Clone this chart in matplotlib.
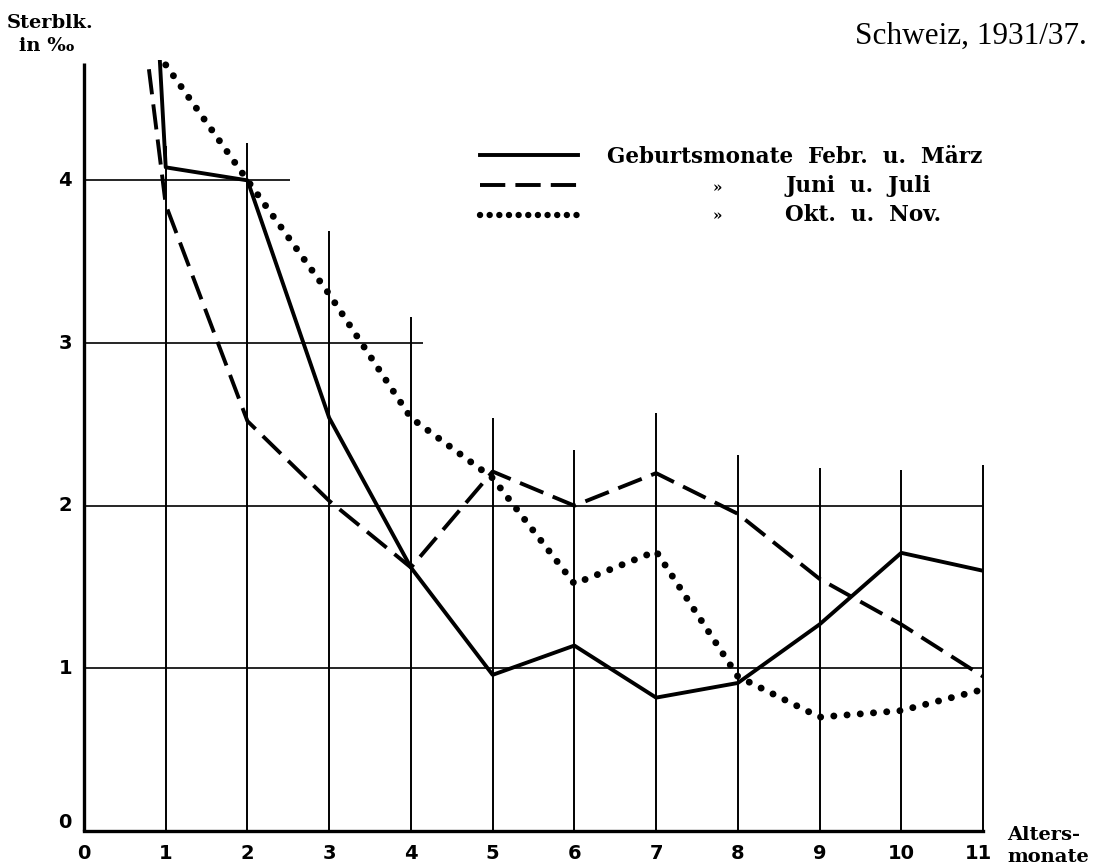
import numpy as np
import matplotlib
matplotlib.use("Agg")
import matplotlib.pyplot as plt

# Altersmonate 0..11, Sterblichkeit in Promille (Monat 0 liegt oberhalb des Blattes)
months = np.arange(12)
febr_maerz = [13.2, 4.08, 4.00, 2.54, 1.62, 0.96, 1.14, 0.82, 0.91, 1.27, 1.71, 1.60]
juni_juli = [7.9, 3.85, 2.52, 2.03, 1.62, 2.21, 2.00, 2.20, 1.95, 1.55, 1.27, 0.95]
okt_nov = [np.nan, 4.71, 4.00, 3.30, 2.54, 2.17, 1.52, 1.72, 0.95, 0.70, 0.74, 0.87]

# Netzlinien wie im Original: ungleich lange Senkrechte / Waagerechte
vline_tops = [4.72, 4.21, 4.23, 3.69, 3.16, 2.54, 2.34, 2.57, 2.31, 2.23, 2.22, 2.25]
hline_levels = [1, 2, 3, 4]
hline_ends = [11.0, 11.0, 4.15, 2.52]

x_ticks = list(range(12))
y_ticks = [0, 1, 2, 3, 4]

serif = ["DejaVu Serif"]
digits = ["Liberation Sans Narrow", "DejaVu Sans"]

fig = plt.figure(figsize=(10.94, 8.66), dpi=100)
ax = fig.add_axes([84 / 1094, 35 / 866, (983 - 84) / 1094, 771 / 866])
ax.set_xlim(0, 11)
ax.set_ylim(0, 4.74)
ax.axis("off")

# Achsen und Netz
ax.plot([0, 0], [0, vline_tops[0]], color="black", lw=2.4, clip_on=False,
        solid_capstyle="butt")
ax.plot([0, 11], [0, 0], color="black", lw=2.4, clip_on=False)
ax.vlines(months[1:], 0, vline_tops[1:], color="black", lw=1.4, clip_on=False)
ax.hlines(hline_levels, 0, hline_ends, color="black", lw=1.2, clip_on=False)

ax.plot(months, febr_maerz, color="black", lw=2.8)
ax.plot(months, juni_juli, color="black", lw=2.8, dashes=(6.5, 2.6))
ax.plot(months, okt_nov, color="black", lw=5.0, dashes=(0.01, 1.9),
        dash_capstyle="round")

for t in x_ticks:
    ax.text(t - (0.05 if t == 11 else 0), -0.14, str(t), ha="center", va="center",
            fontsize=14, fontweight="bold", family=digits)
for t in y_ticks:
    ax.text(-0.23, t + (0.05 if t == 0 else 0), str(t), ha="center", va="center",
            fontsize=14, fontweight="bold", family=digits)

fig.text(50 / 1094, 1 - 23 / 866, "Sterblk.", ha="center", va="center",
         fontsize=14, fontweight="bold", family=serif)
fig.text(47 / 1094, 1 - 46 / 866, "in ‰", ha="center", va="center",
         fontsize=14, fontweight="bold", family=serif)
fig.text(1087 / 1094, 1 - 44 / 866, "Schweiz, 1931/37.", ha="right", va="baseline",
         fontsize=22.5, family=["Liberation Serif", "DejaVu Serif"])
fig.text(1007 / 1094, 1 - 840 / 866, "Alters-", ha="left", va="baseline",
         fontsize=14, fontweight="bold", family=serif)
fig.text(1007 / 1094, 1 - 862 / 866, "monate", ha="left", va="baseline",
         fontsize=14, fontweight="bold", family=serif)

# Legende (frei gesetzt wie im Original)
leg_y = [155, 185, 215]
leg_style = [dict(lw=2.8), dict(lw=2.8, dashes=(6.5, 2.6)),
             dict(lw=4.6, dashes=(0.01, 1.5), dash_capstyle="round")]
for yy, st in zip(leg_y, leg_style):
    fig.add_artist(plt.Line2D([480 / 1094, 578 / 1094], [1 - yy / 866] * 2,
                              color="black", transform=fig.transFigure, **st))
fig.text(607 / 1094, 1 - 163 / 866, "Geburtsmonate  Febr.  u.  März", va="baseline",
         fontsize=15.5, fontweight="bold", family=serif)
for yy in (192, 220):
    fig.text(717 / 1094, 1 - yy / 866, "»", va="baseline", ha="center",
             fontsize=11, fontweight="bold", family=serif)
fig.text(785 / 1094, 1 - 192 / 866, "Juni  u.  Juli", va="baseline",
         fontsize=15.5, fontweight="bold", family=serif)
fig.text(785 / 1094, 1 - 221 / 866, "Okt.  u.  Nov.", va="baseline",
         fontsize=15.5, fontweight="bold", family=serif)

fig.savefig("out.png", dpi=100)
